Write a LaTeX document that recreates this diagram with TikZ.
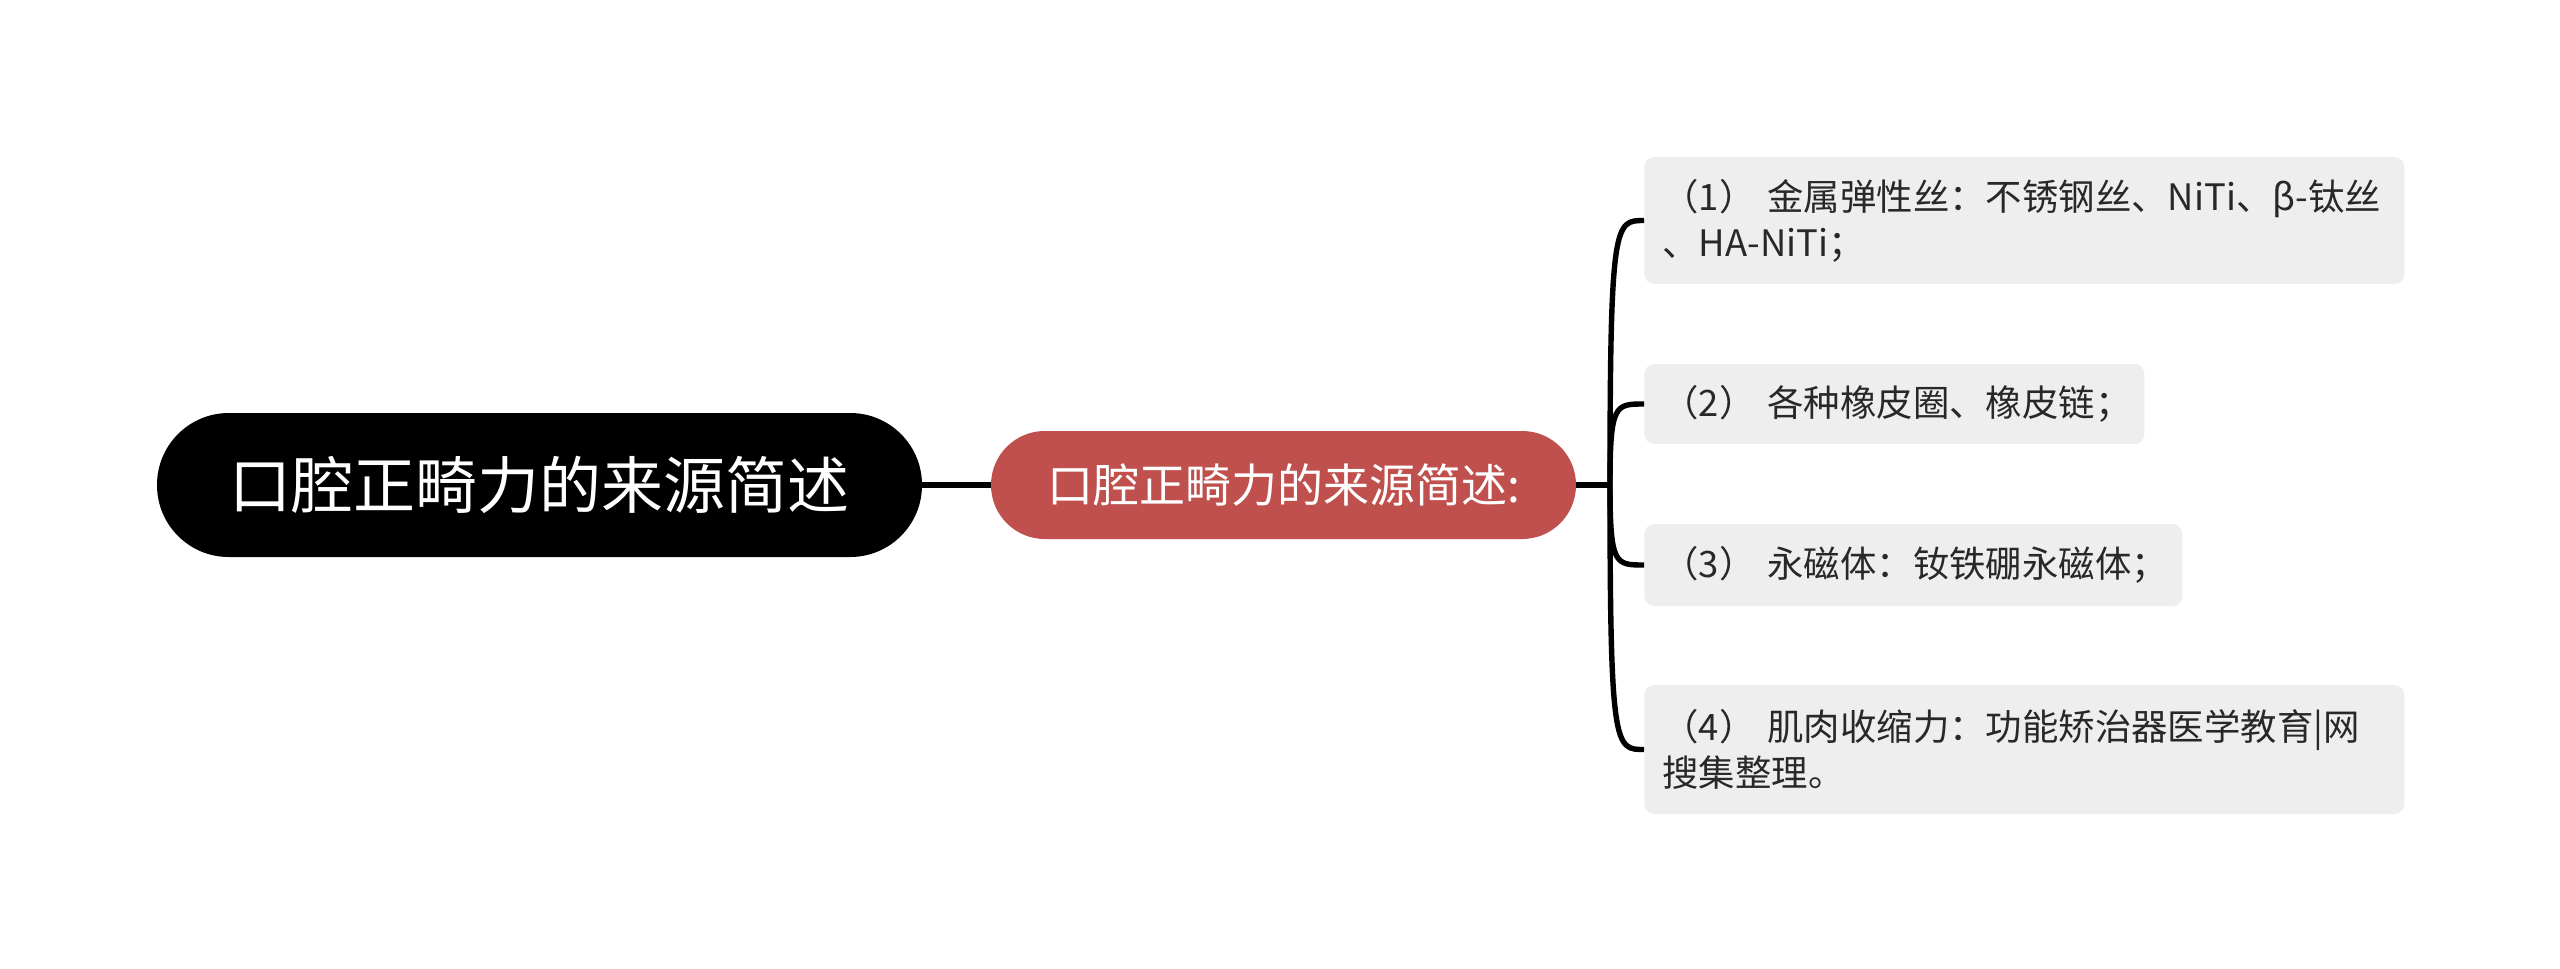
\documentclass[tikz,border=0pt]{standalone}
\usepackage{fontspec}
\setmainfont{Noto Sans CJK SC}
\usepackage{tikz}
\usetikzlibrary{calc}
\definecolor{topicred}{RGB}{191,80,77}
\definecolor{leafgray}{RGB}{238,238,238}
\definecolor{textgray}{RGB}{40,40,40}

\begin{document}
\begin{tikzpicture}[x=0.5pt, y=-0.5pt, root/.style={fill=black, text=white,
		rounded corners=35.9pt, minimum width=382.5pt, minimum height=72pt,
		font=\fontsize{31}{36}\selectfont},
	topic/.style={fill=topicred, text=white, rounded corners=26.9pt,
		minimum width=292.5pt, minimum height=54pt, font=\fontsize{23}{28}\selectfont},
	leaf/.style={fill=leafgray, text=textgray, rounded corners=5pt, anchor=west,
		inner xsep=9pt, align=left, font=\fontsize{18.2}{23}\selectfont},
	link/.style={draw=black, line width=2.7pt}]
	\useasboundingbox (0, 0) rectangle (2560, 969);
	\node[root] (root) at (539.5, 485) {口腔正畸力的来源简述};
	\node[topic] (main) at (1283.5, 485) {口腔正畸力的来源简述:};
	\coordinate (hub) at (1610, 485);
	\node[leaf, text width=362pt, minimum height=63.5pt] (s1) at (1644, 220.5)
		{（1）~金属弹性丝：不锈钢丝、NiTi、β-钛丝\\、HA-NiTi；};
	\node[leaf, text width=232pt, minimum height=40pt] (s2) at (1644, 404)
		{（2）~各种橡皮圈、橡皮链；};
	\node[leaf, text width=251pt, minimum height=41pt] (s3) at (1644, 565)
		{（3）~永磁体：钕铁硼永磁体；};
	\node[leaf, text width=362pt, minimum height=64.5pt] (s4) at (1644, 749.5)
		{（4）~肌肉收缩力：功能矫治器医学教育|网\\搜集整理。};
	\draw[link] (root) to (main);
	\draw[link] (main.east) to (hub);
	\draw[link] (hub) .. controls (hub |- s1.west) and ($(hub |- s1.west)+(5, 0)$) .. (s1.west);
	\draw[link] (hub) .. controls (hub |- s2.west) and ($(hub |- s2.west)+(5, 0)$) .. (s2.west);
	\draw[link] (hub) .. controls (hub |- s3.west) and ($(hub |- s3.west)+(5, 0)$) .. (s3.west);
	\draw[link] (hub) .. controls (hub |- s4.west) and ($(hub |- s4.west)+(5, 0)$) .. (s4.west);
\end{tikzpicture}
\end{document}
